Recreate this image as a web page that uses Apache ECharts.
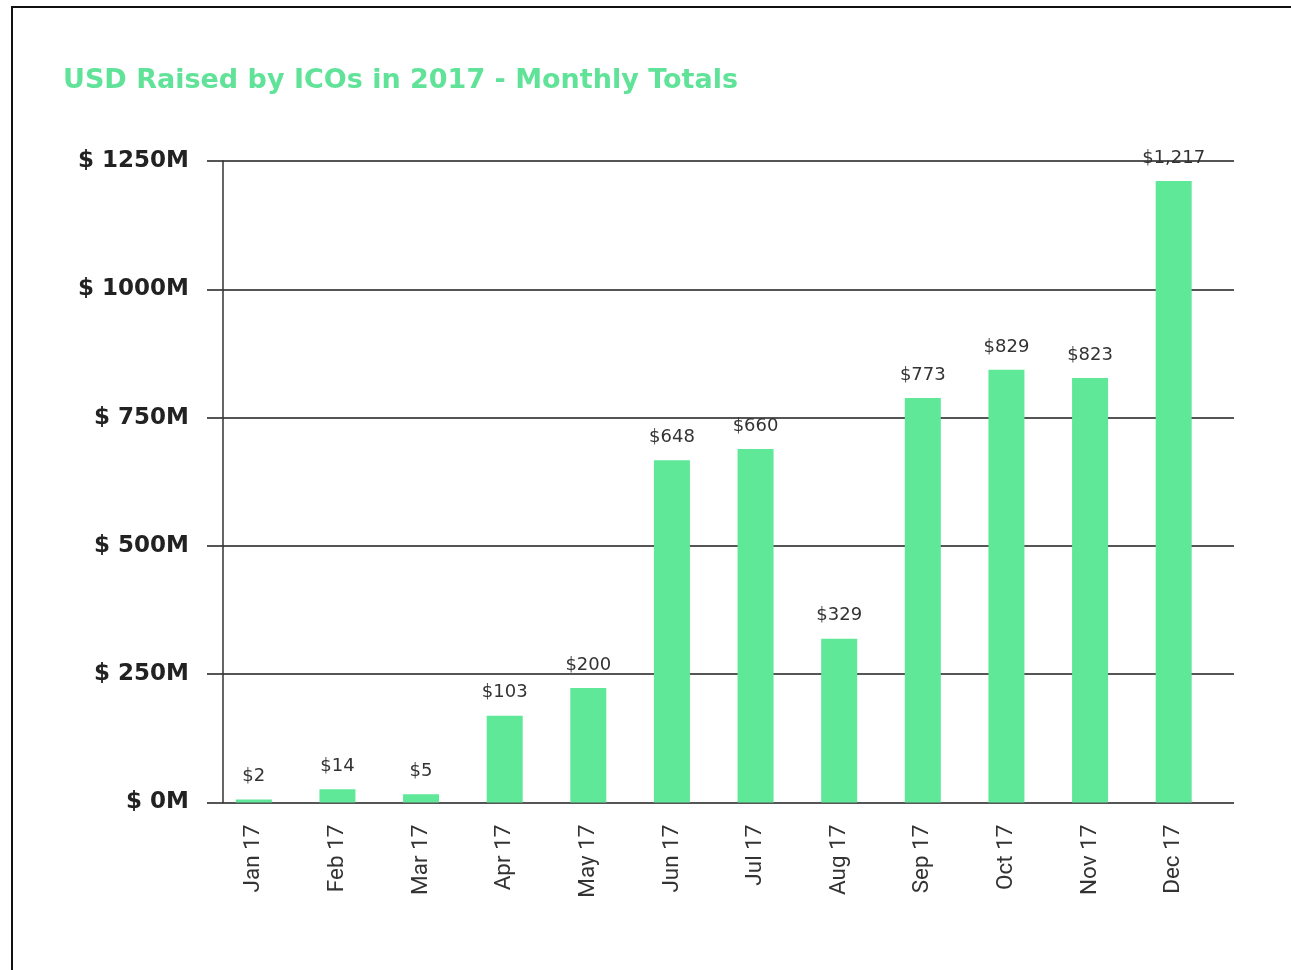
<!DOCTYPE html>
<html>
<head>
<meta charset="utf-8">
<script src="https://cdn.jsdelivr.net/npm/echarts@6/dist/echarts.min.js"></script>
<style>
html,body{margin:0;padding:0;background:#fff;}
#chart{width:1291px;height:970px;}
</style>
</head>
<body>
<div id="chart"></div>
<script>
// Categories (months)
var months = ['Jan 17','Feb 17','Mar 17','Apr 17','May 17','Jun 17','Jul 17','Aug 17','Sep 17','Oct 17','Nov 17','Dec 17'];
// Bar heights as read against the y axis (USD millions)
var barHeights = [6, 26, 16, 169, 223, 667, 689, 319, 788, 843, 827, 1211];
// Printed value labels above each bar
var valueLabels = ['$2','$14','$5','$103','$200','$648','$660','$329','$773','$829','$823','$1,217'];
// Y axis ticks and their labels
var yTicks = [0, 250, 500, 750, 1000, 1250];
var yTickLabels = ['$ 0M','$ 250M','$ 500M','$ 750M','$ 1000M','$ 1250M'];
var titleText = 'USD Raised by ICOs in 2017 - Monthly Totals';

var chart = echarts.init(document.getElementById('chart'), null, {renderer:'canvas'});
var option = {
  backgroundColor: '#ffffff',
  animation: false,
  title: {
    text: titleText,
    left: 58,
    top: 62,
    textStyle: {
      fontFamily: 'DejaVu Sans',
      fontWeight: 'bold',
      fontSize: 27,
      color: '#60e398'
    }
  },
  graphic: [
    {type:'line', shape:{x1:11, y1:7, x2:1291, y2:7}, style:{stroke:'#111', lineWidth:2}, silent:true},
    {type:'line', shape:{x1:12, y1:6, x2:12, y2:970}, style:{stroke:'#111', lineWidth:2}, silent:true}
  ],
  grid: [
    {left: 207, right: 57, top: 161, bottom: 167.5},
    {left: 212, right: 75.5, top: 161, bottom: 167.5}
  ],
  xAxis: [
    {type:'value', gridIndex:0, show:false, min:0, max:1},
    {
      type:'category', gridIndex:1, data: months,
      axisLine:{show:false}, axisTick:{show:false},
      axisLabel:{
        rotate:90, margin:22, interval:0,
        fontFamily:'Roboto', fontSize:22.5, color:'#333'
      }
    }
  ],
  yAxis: [
    {
      type:'value', gridIndex:0, min:0, max:1250, interval:250,
      offset:-16,
      axisLine:{show:true, lineStyle:{color:'#333', width:1.5}},
      axisTick:{show:false},
      splitLine:{show:true, lineStyle:{color:'#555', width:2}},
      axisLabel:{
        margin:34,
        fontFamily:'DejaVu Sans', fontWeight:'bold', fontSize:23, color:'#222',
        formatter:function(v){ var i = yTicks.indexOf(v); return i >= 0 ? yTickLabels[i] : ''; }
      }
    },
    {type:'value', gridIndex:1, min:0, max:1250, interval:250, show:false, splitLine:{show:false}}
  ],
  series: [
    {
      type:'bar', xAxisIndex:1, yAxisIndex:1,
      data: barHeights,
      barWidth: 36,
      itemStyle:{color:'#5ee897'},
      label:{
        show:true, position:'top', distance:14,
        fontFamily:'DejaVu Sans', fontSize:18, color:'#333',
        formatter:function(p){ return valueLabels[p.dataIndex]; }
      }
    }
  ]
};
chart.setOption(option);
</script>
</body>
</html>
